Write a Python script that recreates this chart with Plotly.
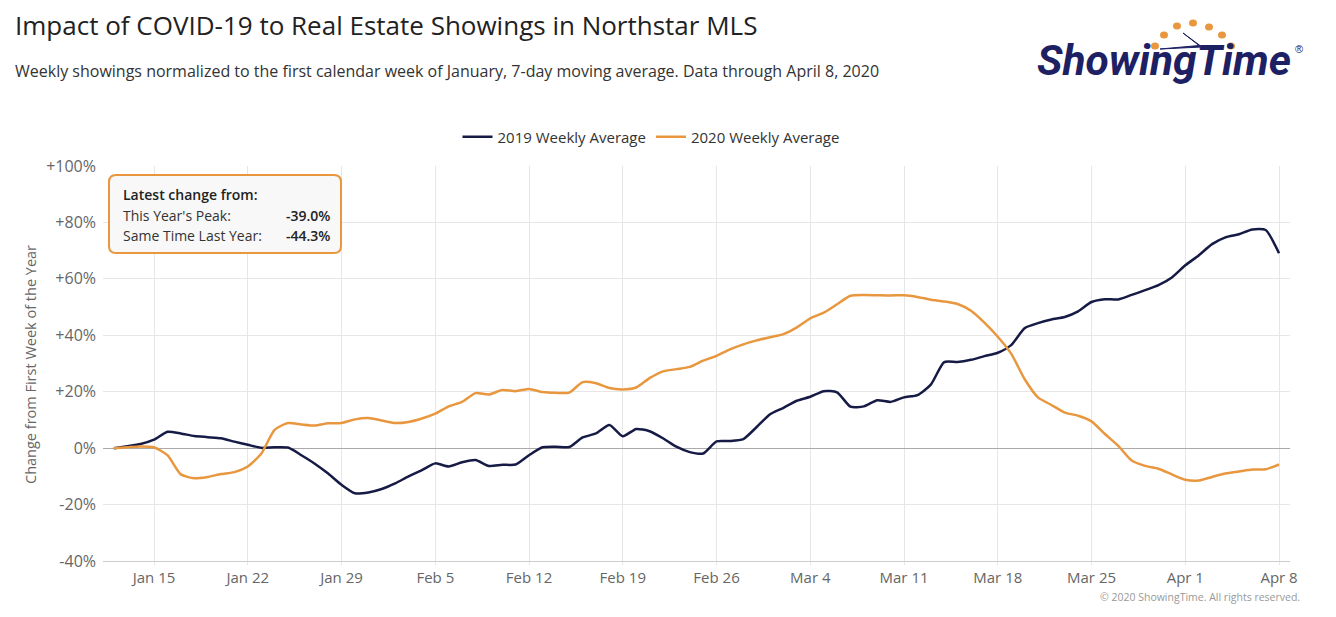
import pandas as pd
import plotly.graph_objects as go

# ---------------- data ----------------
dates = pd.date_range("2020-01-12", "2020-04-08", freq="D")

avg_2019 = [
    0.0, 0.7, 1.5, 3.0, 5.8, 5.2, 4.3, 3.9, 3.5, 2.3, 1.2, 0.1, 0.3, 0.2, -2.5, -5.5,
    -9.0, -13.0, -16.0, -15.7, -14.5, -12.5, -10.0, -7.8, -5.4, -6.5, -5.0, -4.2, -6.3, -5.9,
    -5.8, -2.5, 0.3, 0.5, 0.4, 3.8, 5.2, 8.2, 4.2, 6.8, 6.0, 3.5, 0.5, -1.4, -1.9, 2.4,
    2.5, 3.2, 7.5, 12.0, 14.3, 16.8, 18.2, 20.2, 19.8, 14.7, 14.8, 17.0, 16.4, 18.0, 18.8,
    22.5, 30.5, 30.5, 31.3, 32.6, 33.8, 36.5, 42.5, 44.3, 45.6, 46.5, 48.5, 51.8, 52.8,
    52.7, 54.3, 56.0, 57.8, 60.5, 64.8, 68.3, 72.3, 74.7, 75.8, 77.5, 77.3, 69.1,
]

avg_2020 = [
    0.0, 0.3, 0.6, 0.3, -2.5, -9.3, -10.7, -10.2, -9.2, -8.5, -6.5, -2.0, 6.5, 8.9, 8.4,
    8.0, 8.8, 8.9, 10.2, 10.7, 9.8, 8.9, 9.3, 10.5, 12.2, 14.8, 16.4, 19.5, 19.0, 20.6,
    20.2, 21.0, 19.9, 19.6, 19.7, 23.4, 23.0, 21.3, 20.8, 21.5, 24.8, 27.2, 28.0, 28.8,
    31.0, 32.7, 35.0, 36.8, 38.2, 39.3, 40.4, 42.8, 46.0, 48.0, 51.0, 54.0, 54.3, 54.2,
    54.1, 54.2, 53.6, 52.6, 52.0, 51.1, 48.7, 44.5, 39.5, 33.5, 24.5, 18.0, 15.3, 12.6,
    11.5, 9.5, 5.0, 0.8, -4.4, -6.3, -7.3, -9.3, -11.2, -11.5, -10.2, -9.0, -8.3, -7.6,
    -7.5, -5.8,
]

series_names = ["2019 Weekly Average", "2020 Weekly Average"]
series_colors = ["#161b45", "#e8973f"]

x_tick_dates = ["2020-01-15", "2020-01-22", "2020-01-29", "2020-02-05", "2020-02-12",
                "2020-02-19", "2020-02-26", "2020-03-04", "2020-03-11", "2020-03-18",
                "2020-03-25", "2020-04-01", "2020-04-08"]
x_tick_labels = ["Jan 15", "Jan 22", "Jan 29", "Feb 5", "Feb 12", "Feb 19", "Feb 26",
                 "Mar 4", "Mar 11", "Mar 18", "Mar 25", "Apr 1", "Apr 8"]
y_tick_vals = [-40, -20, 0, 20, 40, 60, 80, 100]
y_tick_labels = ["-40%", "-20%", "0%", "+20%", "+40%", "+60%", "+80%", "+100%"]

title_text = "Impact of COVID-19 to Real Estate Showings in Northstar MLS"
subtitle_text = ("Weekly showings normalized to the first calendar week of January, "
                 "7-day moving average. Data through April 8, 2020")
box_title = "Latest change from:"
box_rows = [("This Year's Peak:", "-39.0%"), ("Same Time Last Year:", "-44.3%")]
y_title = "Change from First Week of the Year"
credit = "© 2020 ShowingTime. All rights reserved."

# ---------------- layout geometry (pixels) ----------------
WIDTH, HEIGHT = 1336, 617
L, R, T, B = 103, 1290, 166, 561
PW, PH = R - L, B - T
FONT = "Open Sans, Noto Sans, sans-serif"
LOGO_NAVY = "#1d2163"


def px(x):
    return (x - L) / PW


def py(y):
    return (B - y) / PH


fig = go.Figure()
for vals, name, col in zip([avg_2019, avg_2020], series_names, series_colors):
    fig.add_trace(go.Scatter(
        x=dates, y=vals, name=name, mode="lines",
        line=dict(color=col, width=2.5, shape="spline", smoothing=0.6),
    ))

annotations = [
    dict(text=title_text, x=px(13), y=py(25), xref="paper", yref="paper",
         xanchor="left", yanchor="middle", showarrow=False,
         font=dict(family=FONT, size=26, color="#222222")),
    dict(text=subtitle_text, x=px(13), y=py(71), xref="paper", yref="paper",
         xanchor="left", yanchor="middle", showarrow=False,
         font=dict(family=FONT, size=16, color="#333333")),
    dict(text=credit, x=px(1302), y=py(597), xref="paper", yref="paper",
         xanchor="right", yanchor="middle", showarrow=False,
         font=dict(family=FONT, size=10.5, color="#999999")),
    dict(text=y_title, x=px(30), y=py(365), xref="paper", yref="paper",
         xanchor="center", yanchor="middle", showarrow=False, textangle=-90,
         font=dict(family=FONT, size=14.5, color="#666666")),
    # logo
    dict(text="<b><i>ShowingTime</i></b>", x=px(1035), y=py(61), xref="paper", yref="paper",
         xanchor="left", yanchor="middle", showarrow=False,
         font=dict(family="Roboto, Liberation Sans, sans-serif", size=42.5, color=LOGO_NAVY)),
    dict(text="®", x=px(1299), y=py(49), xref="paper", yref="paper",
         xanchor="center", yanchor="middle", showarrow=False,
         font=dict(family="Liberation Sans, sans-serif", size=11, color=LOGO_NAVY)),
    # info box text
    dict(text=box_title, x=px(121), y=py(195), xref="paper", yref="paper",
         xanchor="left", yanchor="middle", showarrow=False,
         font=dict(family=FONT, size=14, color="#222222", weight=600)),
]
for i, (lab, val) in enumerate(box_rows):
    yy = 215 + 20 * i
    annotations.append(dict(text=lab, x=px(121), y=py(yy), xref="paper", yref="paper",
                            xanchor="left", yanchor="middle", showarrow=False,
                            font=dict(family=FONT, size=14, color="#333333")))
    annotations.append(dict(text=val, x=px(332), y=py(yy), xref="paper", yref="paper",
                            xanchor="right", yanchor="middle", showarrow=False,
                            font=dict(family=FONT, size=14, color="#222222", weight=600)))


def rounded_rect(x0, y0, x1, y1, r):
    pts = [
        f"M {px(x0 + r)},{py(y0)}",
        f"L {px(x1 - r)},{py(y0)}",
        f"Q {px(x1)},{py(y0)} {px(x1)},{py(y0 + r)}",
        f"L {px(x1)},{py(y1 - r)}",
        f"Q {px(x1)},{py(y1)} {px(x1 - r)},{py(y1)}",
        f"L {px(x0 + r)},{py(y1)}",
        f"Q {px(x0)},{py(y1)} {px(x0)},{py(y1 - r)}",
        f"L {px(x0)},{py(y0 + r)}",
        f"Q {px(x0)},{py(y0)} {px(x0 + r)},{py(y0)}",
        "Z",
    ]
    return " ".join(pts)


shapes = [
    dict(type="path", path=rounded_rect(109, 175, 341, 253, 7), xref="paper", yref="paper",
         line=dict(color="#e8973f", width=2), fillcolor="rgba(248,248,248,0.95)", layer="above"),
]
# logo dots and clock hand
logo_dots = [(1155, 46), (1164, 35), (1177, 26), (1193, 23), (1209, 27), (1222, 35), (1231, 46)]
for (cx, cy) in logo_dots:
    shapes.append(dict(type="circle", xref="paper", yref="paper",
                       x0=px(cx - 4), x1=px(cx + 4), y0=py(cy + 3.5), y1=py(cy - 3.5),
                       fillcolor="#e8973f", line=dict(width=0)))
shapes.append(dict(type="path", xref="paper", yref="paper",
                   path=(f"M {px(1183)},{py(33)} L {px(1202)},{py(47)} "
                         f"L {px(1160)},{py(49)} L {px(1199)},{py(45.5)} Z"),
                   fillcolor=LOGO_NAVY, line=dict(color=LOGO_NAVY, width=1)))

fig.update_layout(
    width=WIDTH, height=HEIGHT,
    margin=dict(l=L, r=WIDTH - R, t=T, b=HEIGHT - B, pad=0),
    paper_bgcolor="white", plot_bgcolor="white",
    font=dict(family=FONT, color="#666666"),
    showlegend=True,
    legend=dict(orientation="h", x=px(651), xanchor="center", y=py(137), yanchor="middle",
                font=dict(family=FONT, size=15, color="#333333"),
                bgcolor="rgba(0,0,0,0)", itemwidth=30, tracegroupgap=0),
    annotations=annotations,
    shapes=shapes,
    hovermode="x unified",
    xaxis=dict(
        type="date",
        range=["2020-01-11 04:30", "2020-04-08 19:40"],
        tickvals=x_tick_dates, ticktext=x_tick_labels,
        showgrid=True, gridcolor="#e6e6e6", gridwidth=1,
        showline=True, linecolor="#cccccc", linewidth=1,
        ticks="outside", ticklen=3, tickcolor="#e6e6e6",
        tickfont=dict(family=FONT, size=15, color="#666666"),
        zeroline=False, fixedrange=True,
    ),
    yaxis=dict(
        range=[-40, 100],
        tickvals=y_tick_vals, ticktext=y_tick_labels,
        showgrid=True, gridcolor="#e6e6e6", gridwidth=1,
        zeroline=True, zerolinecolor="#aaaaaa", zerolinewidth=1,
        showline=False, ticks="", ticklabelstandoff=6,
        tickfont=dict(family=FONT, size=16, color="#666666"),
        fixedrange=True,
    ),
)

fig.write_html("out.html")
